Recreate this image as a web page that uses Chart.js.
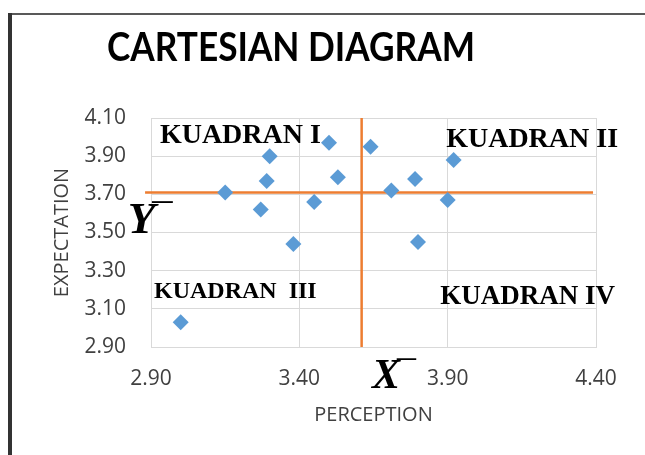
<!DOCTYPE html>
<html>
<head>
<meta charset="utf-8">
<title>Cartesian Diagram</title>
<script src="https://cdn.jsdelivr.net/npm/chart.js@4.4.1/dist/chart.umd.min.js"></script>
<style>
  html, body { margin: 0; padding: 0; background: #fff; }
  #wrap { width: 645px; height: 455px; }
</style>
</head>
<body>
<div id="wrap"><canvas id="cartesianChart" width="645" height="455"></canvas></div>
<script>
/* =========================================================
   Cartesian Diagram — Perception vs Expectation
   ========================================================= */

// ─── Data ─────────────────────────────────────────────────
const perception  = [3.15, 3.30, 3.29, 3.27, 3.45, 3.38, 3.50, 3.53, 3.64, 3.71, 3.79, 3.92, 3.90, 3.80, 3.00];
const expectation = [3.71, 3.90, 3.77, 3.62, 3.66, 3.44, 3.97, 3.79, 3.95, 3.72, 3.78, 3.88, 3.67, 3.45, 3.03];

const meanX = 3.61;           // vertical divider (X̄)
const meanY = 3.71;           // horizontal divider (Ȳ)
const hLineRange = [2.88, 4.39];
const vLineRange = [2.90, 4.10];

const xTicks = [2.90, 3.40, 3.90, 4.40];
const yTicks = [2.90, 3.10, 3.30, 3.50, 3.70, 3.90, 4.10];

const quadrantNames = ['KUADRAN I', 'KUADRAN II', 'KUADRAN  III', 'KUADRAN IV'];

// ─── Colors / fonts ───────────────────────────────────────
const BLUE = '#5B9BD5';
const ORANGE = '#ED7D31';
const GRID = '#D9D9D9';
const AXIS_TEXT = '#404040';
const SANS = "'Open Sans', 'Liberation Sans', sans-serif";
const SERIF = "'Liberation Serif', 'DejaVu Serif', serif";

// label placement in data units: [x, baseline y, font size]
const quadrantPlacement = [
  [2.93, 3.969, 28],
  [3.895, 3.948, 28],
  [2.91, 3.157, 24],
  [3.875, 3.125, 27],
];

// ─── Plugins ──────────────────────────────────────────────
const framePlugin = {
  id: 'frame',
  beforeDraw(chart) {
    const { ctx, width, height } = chart;
    ctx.save();
    ctx.fillStyle = '#fff';
    ctx.fillRect(0, 0, width, height);
    ctx.fillStyle = '#595959';
    ctx.fillRect(8, 13, width - 8, 2);
    ctx.fillStyle = '#333';
    ctx.fillRect(8, 13, 4, height - 13);
    ctx.restore();
  },
  afterLayout(chart) {
    // title box sits off-centre in the original
    if (chart.titleBlock) {
      chart.titleBlock.left = 107;
      chart.titleBlock.right = 475;
    }
  },
};

// big italic letter with a short bar at its top right
function drawMeanSymbol(ctx, letter, size, px, py) {
  ctx.font = `italic bold ${size}px ${SERIF}`;
  ctx.fillText(letter, px, py);
  const w = ctx.measureText(letter).width;
  ctx.font = `${size * 0.9}px ${SERIF}`;
  ctx.fillText('\u00AF', px + w - 3, py - 1);
}

const labelsPlugin = {
  id: 'quadrantLabels',
  afterDatasetsDraw(chart) {
    const { ctx, scales: { x, y } } = chart;
    ctx.save();
    ctx.fillStyle = '#000';
    ctx.textAlign = 'left';
    ctx.textBaseline = 'alphabetic';
    quadrantNames.forEach((name, i) => {
      const [px, py, size] = quadrantPlacement[i];
      ctx.font = `bold ${size}px ${SERIF}`;
      ctx.fillText(name, x.getPixelForValue(px), y.getPixelForValue(py));
    });
    // mean markers
    drawMeanSymbol(ctx, 'Y', 45, x.getPixelForValue(2.822), y.getPixelForValue(3.50));
    drawMeanSymbol(ctx, 'X', 42, x.getPixelForValue(3.645), y.getPixelForValue(2.685));
    ctx.restore();
  },
};

// ─── Chart ────────────────────────────────────────────────
function renderCartesianChart() {
  const ctx = document.getElementById('cartesianChart');
  if (!ctx) return;

  const points = perception.map((p, i) => ({ x: p, y: expectation[i] }));

  new Chart(ctx, {
    type: 'scatter',
    data: {
      datasets: [
        {
          label: 'Respondents',
          data: points,
          pointStyle: 'rectRot',
          pointRadius: 8,
          pointHoverRadius: 8,
          backgroundColor: BLUE,
          borderColor: BLUE,
          borderWidth: 0,
          order: 1,
        },
        {
          label: 'Mean expectation',
          type: 'line',
          data: hLineRange.map(v => ({ x: v, y: meanY })),
          borderColor: ORANGE,
          borderWidth: 2.5,
          pointRadius: 0,
          clip: false,
          order: 2,
        },
        {
          label: 'Mean perception',
          type: 'line',
          data: vLineRange.map(v => ({ x: meanX, y: v })),
          borderColor: ORANGE,
          borderWidth: 2.5,
          pointRadius: 0,
          order: 2,
        },
      ],
    },
    options: {
      responsive: false,
      animation: false,
      devicePixelRatio: 1,
      layout: { padding: { top: 10, left: 40, right: 49, bottom: 10 } },
      plugins: {
        legend: { display: false },
        tooltip: { enabled: false },
        title: {
          display: true,
          text: 'CARTESIAN DIAGRAM',
          color: '#000',
          font: { family: "'Liberation Sans Narrow', Lato, sans-serif", size: 40, weight: 'bold' },
          padding: { top: 14, bottom: 46 },
        },
      },
      scales: {
        x: {
          type: 'linear',
          min: xTicks[0],
          max: xTicks[xTicks.length - 1],
          afterBuildTicks: s => { s.ticks = xTicks.map(v => ({ value: v })); },
          afterFit: s => { s.height = 98; },
          ticks: {
            callback: v => v.toFixed(2),
            color: AXIS_TEXT,
            font: { family: SANS, size: 21 },
            padding: 19,
            maxRotation: 0,
          },
          grid: { color: GRID, drawTicks: false },
          border: { display: true, color: GRID },
          title: {
            display: true,
            text: 'PERCEPTION',
            color: AXIS_TEXT,
            font: { family: SANS, size: 20 },
            padding: { top: 0, bottom: 18 },
          },
        },
        y: {
          type: 'linear',
          min: yTicks[0],
          max: yTicks[yTicks.length - 1],
          afterBuildTicks: s => { s.ticks = yTicks.map(v => ({ value: v })); },
          afterFit: s => { s.width = 111; },
          ticks: {
            callback: v => v.toFixed(2),
            color: AXIS_TEXT,
            font: { family: SANS, size: 21 },
            padding: 25,
          },
          grid: { color: GRID, drawTicks: false },
          border: { display: true, color: GRID },
          title: {
            display: true,
            text: 'EXPECTATION',
            color: AXIS_TEXT,
            font: { family: SANS, size: 20 },
            padding: { top: 10, bottom: 0 },
          },
        },
      },
    },
    plugins: [framePlugin, labelsPlugin],
  });
}

document.addEventListener('DOMContentLoaded', renderCartesianChart);
</script>
</body>
</html>
